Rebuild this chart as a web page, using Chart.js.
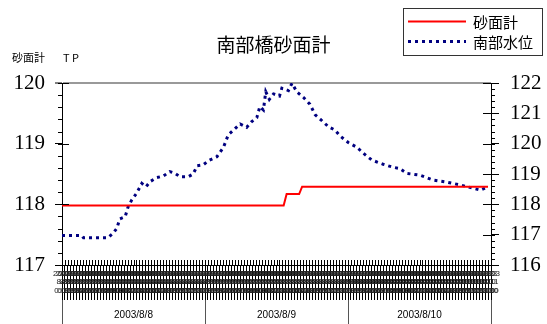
<!DOCTYPE html>
<html>
<head>
<meta charset="utf-8">
<script src="https://cdn.jsdelivr.net/npm/chart.js@4/dist/chart.umd.min.js"></script>
<style>
  html, body { margin: 0; padding: 0; background: #fff; }
</style>
</head>
<body>
<canvas id="myChart" width="547" height="324"></canvas>
<script>
// hours counted from 2003/8/8 0:00
const sandHours = [0, 37.2, 37.7, 39.8, 40.3, 71.5]
const sandValues = [117.98, 117.98, 118.17, 118.17, 118.29, 118.29]

const levelHours = [
  0, 3.3, 3.6, 7.7, 8.6, 9.2, 9.7, 10.6, 11.1, 11.7, 12.5, 13.4, 14.1, 14.8, 15.9,
  17.0, 18.1, 19.0, 19.8, 21.2, 22.0, 22.7, 23.7, 24.6, 26.0, 27.1, 27.9, 28.8, 29.9,
  31.0, 31.8, 32.7, 33.2, 33.8, 34.2, 34.8, 35.5, 36.5, 36.9, 38.0, 38.6, 39.4, 40.5,
  41.6, 42.5, 43.5, 44.7, 45.8, 46.7, 48.1, 49.5, 50.6, 52.0, 53.9, 55.6, 56.7, 57.9,
  60.1, 62.3, 64.6, 66.8, 69.0, 70.2, 71.3
]
const levelValues = [
  116.97, 116.97, 116.90, 116.90, 117.05, 117.21, 117.52, 117.59, 117.92, 118.14, 118.36, 118.69, 118.58, 118.75, 118.88,
  118.93, 119.08, 119.02, 118.91, 118.91, 119.00, 119.27, 119.30, 119.44, 119.57, 119.88, 120.29, 120.45, 120.65,
  120.54, 120.72, 120.86, 121.22, 121.11, 121.71, 121.46, 121.64, 121.57, 121.83, 121.75, 121.99, 121.71, 121.53,
  121.30, 120.95, 120.78, 120.56, 120.45, 120.25, 120.03, 119.88, 119.68, 119.46, 119.32, 119.22, 119.18, 119.02,
  118.96, 118.80, 118.73, 118.64, 118.53, 118.47, 118.56
]

const dayLabels = ['2003/8/8', '2003/8/9', '2003/8/10']
const sandTicks = [117, 118, 119, 120]
const levelTicks = [116, 117, 118, 119, 120, 121, 122]

const serif = '"Liberation Serif", "Times New Roman", serif'

const toPoints = (xs, ys) => xs.map((x, i) => ({ x: x, y: ys[i] }))

const halfHourLabel = (v) => {
  const day = 8 + Math.floor(v / 24)
  const h = Math.floor(v % 24)
  const m = v % 1 ? '30' : '00'
  return ['2003', '8/' + day, h + ':' + m]
}

// small ticks, inner halves of the big ticks, the legend box and the unit label
const extras = {
  id: 'extras',
  afterDraw(chart) {
    const { ctx, chartArea: a, scales } = chart
    const line = (x1, y1, x2, y2) => { ctx.beginPath(); ctx.moveTo(x1, y1); ctx.lineTo(x2, y2); ctx.stroke() }
    ctx.save()
    ctx.strokeStyle = '#000'
    ctx.lineWidth = 1

    for (let i = 0; i <= 15; i++) {
      const y = Math.round(scales.y.getPixelForValue(117 + i * 0.2)) + 0.5
      line(a.left - 4, y, a.left, y)
    }
    sandTicks.forEach(v => {
      const y = Math.round(scales.y.getPixelForValue(v)) + 0.5
      line(a.left, y, a.left + 7, y)
    })
    for (let i = 0; i <= 30; i++) {
      const y = Math.round(scales.y2.getPixelForValue(116 + i * 0.2)) + 0.5
      line(a.right, y, a.right + 4, y)
    }
    levelTicks.forEach(v => {
      const y = Math.round(scales.y2.getPixelForValue(v)) + 0.5
      line(a.right - 8, y, a.right, y)
    })
    for (let i = 0; i <= 144; i++) {
      const x = Math.round(scales.x.getPixelForValue(i * 0.5)) + 0.5
      line(x, a.bottom - 5, x, a.bottom)
    }

    ctx.fillStyle = '#000'
    ctx.textBaseline = 'middle'
    ctx.font = '11px "Noto Sans CJK JP"'
    ctx.fillText('砂面計', 12, 58)
    ctx.fillText('T P', 63, 58)

    // legend
    ctx.strokeStyle = '#333'
    ctx.strokeRect(403.5, 8.5, 139, 47)
    ctx.font = '15px "Noto Sans CJK JP"'
    chart.data.datasets.forEach((ds, i) => {
      const y = 21.5 + i * 20
      ctx.strokeStyle = ds.borderColor
      ctx.lineWidth = ds.borderWidth
      ctx.setLineDash(ds.borderDash || [])
      line(408, y, 466, y)
      ctx.setLineDash([])
      ctx.fillText(ds.label, 473, y + 1)
    })
    ctx.restore()
  }
}

const ctx = document.getElementById('myChart')
const myChart = new Chart(ctx, {
  type: 'line',
  data: {
    datasets: [{
      label: '砂面計',
      data: toPoints(sandHours, sandValues),
      borderColor: '#ff0000',
      borderWidth: 2,
      yAxisID: 'y'
    }, {
      label: '南部水位',
      data: toPoints(levelHours, levelValues),
      borderColor: '#000080',
      borderWidth: 3,
      borderDash: [3, 4],
      yAxisID: 'y2'
    }]
  },
  options: {
    responsive: false,
    devicePixelRatio: 1,
    animation: false,
    layout: { padding: 0 },
    elements: { point: { radius: 0 }, line: { tension: 0 } },
    plugins: {
      legend: { display: false },
      tooltip: { enabled: false },
      title: {
        display: true,
        text: '南部橋砂面計',
        color: '#000',
        font: { family: '"Noto Sans CJK JP"', size: 19, weight: 'normal' },
        padding: { top: 33, bottom: 27.2 }
      }
    },
    scales: {
      x: {
        type: 'linear',
        position: 'bottom',
        min: 0,
        max: 72,
        afterFit: s => { s.height = 35 },
        afterBuildTicks: s => { s.ticks = Array.from({ length: 145 }, (_, i) => ({ value: i * 0.5 })) },
        ticks: {
          autoSkip: false,
          maxRotation: 0,
          minRotation: 0,
          padding: -31,
          color: '#222',
          font: { family: 'Liberation Sans', size: 8, lineHeight: 1.1 },
          callback: v => halfHourLabel(v)
        },
        grid: { drawOnChartArea: false, tickLength: 35, color: '#000' },
        border: { color: '#000' }
      },
      x2: {
        type: 'linear',
        position: 'bottom',
        weight: 1,
        min: 0,
        max: 72,
        afterFit: s => { s.height = 24 },
        afterBuildTicks: s => { s.ticks = Array.from({ length: 7 }, (_, i) => ({ value: i * 12 })) },
        ticks: {
          autoSkip: false,
          maxRotation: 0,
          minRotation: 0,
          padding: -15,
          color: '#000',
          font: { family: 'Liberation Sans', size: 10 },
          callback: v => v % 24 === 12 ? dayLabels[(v - 12) / 24] : ''
        },
        grid: {
          drawOnChartArea: false,
          tickLength: 24,
          color: c => c.tick && c.tick.value % 24 === 0 ? '#555' : 'rgba(0,0,0,0)'
        },
        border: { display: false }
      },
      y: {
        position: 'left',
        min: 117,
        max: 120,
        afterFit: s => { s.width = 62 },
        ticks: {
          stepSize: 1,
          padding: 10,
          color: '#000',
          font: { family: serif, size: 21 }
        },
        grid: {
          drawOnChartArea: true,
          tickLength: 7,
          tickColor: '#000',
          tickWidth: 1,
          color: c => c.tick && c.tick.value === 120 ? '#999' : 'rgba(0,0,0,0)',
          lineWidth: c => c.tick && c.tick.value === 120 ? 2 : 1
        },
        border: { color: '#000' }
      },
      y2: {
        position: 'right',
        min: 116,
        max: 122,
        afterFit: s => { s.width = 56 },
        ticks: {
          stepSize: 1,
          padding: 11,
          color: '#000',
          font: { family: serif, size: 21 }
        },
        grid: { drawOnChartArea: false, tickLength: 8, color: '#000' },
        border: { color: '#000' }
      }
    }
  },
  plugins: [extras]
})
</script>
</body>
</html>
